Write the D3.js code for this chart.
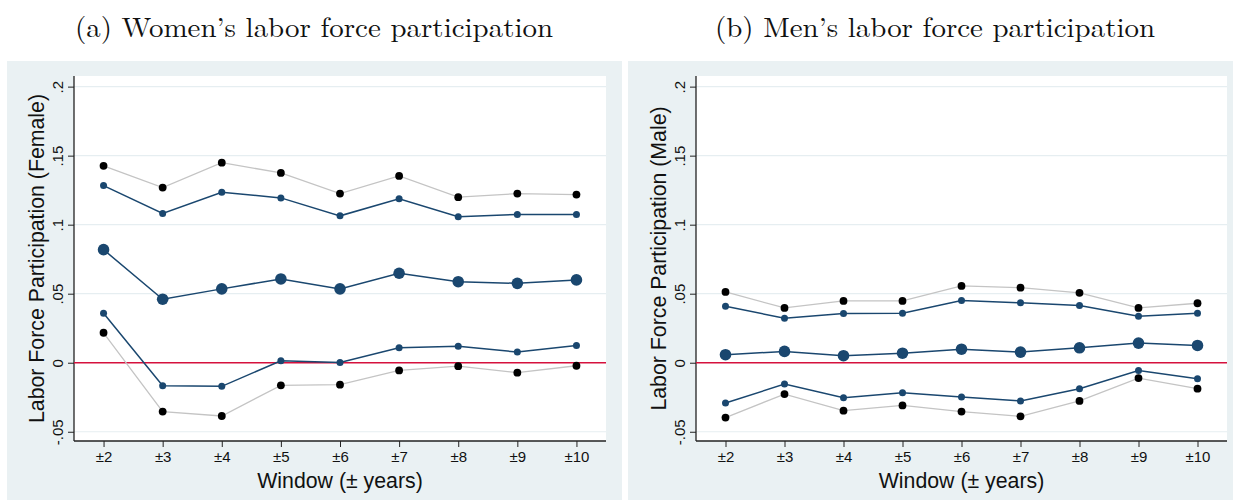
<!DOCTYPE html>
<html><head><meta charset="utf-8">
<script src="https://cdn.jsdelivr.net/npm/d3@7"></script>
<style>html,body{margin:0;padding:0;background:#fff;}svg{display:block;}</style>
</head><body>
<svg id="chart" width="1237" height="502"></svg>
<script>
// ---- data ----
const windows = [2,3,4,5,6,7,8,9,10];
const windowLabels = ["±2","±3","±4","±5","±6","±7","±8","±9","±10"];
const yTicks = [-0.05, 0, 0.05, 0.1, 0.15, 0.2];
const yTickLabels = ["-.05","0",".05",".1",".15",".2"];

const femaleOuterUpper = [0.1426,0.1269,0.1449,0.1375,0.1225,0.1353,0.1199,0.1225,0.1218];
const femaleInnerUpper = [0.1283,0.1081,0.1235,0.1194,0.1064,0.1187,0.1057,0.1074,0.1074];
const femaleEstimate   = [0.0819,0.0460,0.0535,0.0607,0.0535,0.0648,0.0587,0.0575,0.0600];
const femaleInnerLower = [0.0358,-0.0166,-0.0171,0.0014,0.0002,0.0108,0.0120,0.0077,0.0125];
const femaleOuterLower = [0.0217,-0.0354,-0.0386,-0.0164,-0.0159,-0.0056,-0.0025,-0.0072,-0.0022];

const maleOuterUpper = [0.0513,0.0397,0.0448,0.0448,0.0556,0.0544,0.0506,0.0397,0.0431];
const maleInnerUpper = [0.0409,0.0322,0.0356,0.0358,0.0450,0.0434,0.0414,0.0337,0.0358];
const maleEstimate   = [0.0058,0.0082,0.0051,0.0069,0.0098,0.0077,0.0108,0.0142,0.0125];
const maleInnerLower = [-0.0292,-0.0155,-0.0253,-0.0217,-0.0249,-0.0277,-0.0188,-0.0056,-0.0116];
const maleOuterLower = [-0.0397,-0.0227,-0.0347,-0.0309,-0.0354,-0.0388,-0.0277,-0.0111,-0.0188];

const panels = [
  {title:"(a) Women’s labor force participation", ytitle:"Labor Force Participation (Female)",
   px:7, pw:615, plotL:74, plotR:606,
   outerU:femaleOuterUpper, innerU:femaleInnerUpper, est:femaleEstimate, innerL:femaleInnerLower, outerL:femaleOuterLower, titleW:478, titleX:314},
  {title:"(b) Men’s labor force participation", ytitle:"Labor Force Participation (Male)",
   px:628, pw:605, plotL:696, plotR:1227,
   outerU:maleOuterUpper, innerU:maleInnerUpper, est:maleEstimate, innerL:maleInnerLower, outerL:maleOuterLower, titleW:440, titleX:935}
];

const svg = d3.select("#chart");
const panelTop = 61, panelBottom = 500, plotTop = 76, plotBottom = 441;
const BG = "#eaf1f3", GRID = "#e6eef1", BLUE = "#1a476f", GRAY = "#c4c4c4", RED = "#d5113d";
const sans = "'Liberation Sans', Arial, Helvetica, sans-serif";

panels.forEach(p => {
  const g = svg.append("g");
  const x = d3.scaleLinear().domain([1.5, 10.5]).range([p.plotL, p.plotR]);
  const y = d3.scaleLinear().domain([-0.0567, 0.2077]).range([plotBottom, plotTop]);

  g.append("rect").attr("x", p.px).attr("y", panelTop).attr("width", p.pw).attr("height", panelBottom - panelTop).attr("fill", BG);
  g.append("rect").attr("x", p.plotL).attr("y", plotTop).attr("width", p.plotR - p.plotL).attr("height", plotBottom - plotTop).attr("fill", "#fff");

  // title
  g.append("text").attr("x", p.titleX).attr("y", 37)
    .attr("text-anchor", "middle").attr("font-family", "'Latin Modern Roman','CMU Serif','Liberation Serif','Times New Roman',serif")
    .attr("font-size", 28).attr("fill", "#111")
    .attr("textLength", p.titleW).attr("lengthAdjust", "spacingAndGlyphs")
    .text(p.title);

  // grid
  g.append("g").selectAll("line").data(yTicks.filter(t => t !== 0)).join("line")
    .attr("x1", p.plotL).attr("x2", p.plotR).attr("y1", d => y(d)).attr("y2", d => y(d))
    .attr("stroke", GRID).attr("stroke-width", 1.2);

  // y axis
  const yAxis = d3.axisLeft(y).tickValues(yTicks).tickSize(6).tickPadding(3)
    .tickFormat((d, i) => yTickLabels[i]);
  const ya = g.append("g").attr("transform", `translate(${p.plotL},0)`).call(yAxis);
  ya.select(".domain").attr("stroke", "#222").attr("stroke-width", 1.3).attr("d", `M0,${plotTop}V${plotBottom}`);
  ya.selectAll(".tick line").attr("stroke", "#222").attr("stroke-width", 1);
  ya.selectAll(".tick text").attr("font-family", sans).attr("font-size", 15).attr("fill", "#111")
    .attr("text-anchor", "middle").attr("x", null).attr("dy", null)
    .attr("transform", "translate(-11,0) rotate(-90)");

  // x axis
  const xAxis = d3.axisBottom(x).tickValues(windows).tickSize(6).tickPadding(4)
    .tickFormat((d, i) => windowLabels[i]);
  const xa = g.append("g").attr("transform", `translate(0,${plotBottom})`).call(xAxis);
  xa.select(".domain").attr("stroke", "#222").attr("stroke-width", 1.3).attr("d", `M${p.plotL},0H${p.plotR}`);
  xa.selectAll(".tick line").attr("stroke", "#222").attr("stroke-width", 1);
  xa.selectAll(".tick text").attr("font-family", sans).attr("font-size", 15).attr("fill", "#111");

  // axis titles
  g.append("text")
    .attr("text-anchor", "middle").attr("font-family", sans).attr("font-size", 21.3).attr("fill", "#111")
    .attr("transform", `translate(${p.plotL - 30},${(plotTop + plotBottom) / 2}) rotate(-90)`)
    .text(p.ytitle);
  g.append("text").attr("x", (p.plotL + p.plotR) / 2).attr("y", 488).attr("text-anchor", "middle")
    .attr("font-family", sans).attr("font-size", 21.3).attr("fill", "#111").text("Window (± years)");

  // zero line
  g.append("line").attr("x1", p.plotL).attr("x2", p.plotR).attr("y1", y(0)).attr("y2", y(0))
    .attr("stroke", RED).attr("stroke-width", 1.3);

  const line = d3.line().x((d, i) => x(windows[i])).y(d => y(d));
  const series = [
    {vals:p.outerU, lc:GRAY, mc:"#000", r:3.9, lw:1.3},
    {vals:p.outerL, lc:GRAY, mc:"#000", r:3.9, lw:1.3},
    {vals:p.innerU, lc:BLUE, mc:BLUE, r:3.5, lw:1.5},
    {vals:p.innerL, lc:BLUE, mc:BLUE, r:3.5, lw:1.5},
    {vals:p.est, lc:BLUE, mc:BLUE, r:5.8, lw:1.5}
  ];
  series.forEach(s => {
    g.append("path").datum(s.vals).attr("d", line).attr("fill", "none").attr("stroke", s.lc).attr("stroke-width", s.lw);
    g.append("g").selectAll("circle").data(s.vals).join("circle")
      .attr("cx", (d, i) => x(windows[i])).attr("cy", d => y(d)).attr("r", s.r).attr("fill", s.mc);
  });
});
</script>
</body></html>
